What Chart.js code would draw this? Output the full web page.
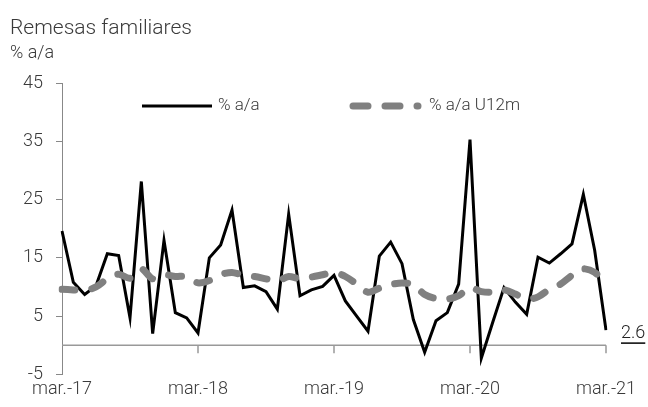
<!DOCTYPE html>
<html>
<head>
<meta charset="utf-8">
<script src="https://cdn.jsdelivr.net/npm/chart.js@4/dist/chart.umd.min.js"></script>
<style>
  html, body { margin: 0; padding: 0; background: #fff; }
</style>
</head>
<body>
<canvas id="chart" width="648" height="407"></canvas>
<script>
// monthly data, mar-17 .. mar-21
const months = [
  'mar.-17','abr.-17','may.-17','jun.-17','jul.-17','ago.-17','sep.-17','oct.-17','nov.-17','dic.-17','ene.-18','feb.-18',
  'mar.-18','abr.-18','may.-18','jun.-18','jul.-18','ago.-18','sep.-18','oct.-18','nov.-18','dic.-18','ene.-19','feb.-19',
  'mar.-19','abr.-19','may.-19','jun.-19','jul.-19','ago.-19','sep.-19','oct.-19','nov.-19','dic.-19','ene.-20','feb.-20',
  'mar.-20','abr.-20','may.-20','jun.-20','jul.-20','ago.-20','sep.-20','oct.-20','nov.-20','dic.-20','ene.-21','feb.-21',
  'mar.-21'
];
const shownLabels = ['mar.-17', 'mar.-18', 'mar.-19', 'mar.-20', 'mar.-21'];

const pctYoY = [
  19.6, 10.8, 8.7, 10.2, 15.7, 15.4, 4.7, 28.1, 2.0, 18.0, 5.6, 4.7,
  2.1, 15.0, 17.2, 23.2, 9.9, 10.2, 9.2, 6.2, 22.5, 8.5, 9.5, 10.1,
  12.0, 7.6, 5.0, 2.4, 15.3, 17.7, 14.0, 4.4, -1.2, 4.2, 5.6, 10.5,
  35.3, -2.2, 3.9, 9.9, 7.4, 5.3, 15.1, 14.1, 15.7, 17.4, 25.9, 16.3,
  2.6
];
const pctYoY12m = [
  9.6, 9.5, 9.4, 10.0, 11.4, 12.2, 11.5, 13.1, 11.4, 12.1, 11.8, 11.8,
  10.7, 11.1, 12.1, 12.5, 12.0, 11.8, 11.4, 11.0, 11.8, 11.4, 11.7, 12.1,
  12.5, 11.8, 10.5, 9.1, 9.8, 10.4, 10.7, 10.4, 8.7, 8.0, 7.9, 8.5,
  9.9, 9.2, 9.1, 9.5, 8.8, 7.9, 8.3, 9.6, 10.5, 12.0, 13.1, 12.5,
  10.5
];
const yTicks = [-5, 5, 15, 25, 35, 45];
const lastLabel = '2.6';

const FONT = "Roboto, 'Liberation Sans', sans-serif";
const TXT = '#3a3a3a';
const GRAY = '#808080';
const DASH = [13, 17];

// titles, zero line, year ticks, legend and the end label
const decor = {
  id: 'decor',
  beforeDatasetsDraw(chart) {
    const {ctx, chartArea: a, scales: {x, y}} = chart;
    const y0 = y.getPixelForValue(0);
    ctx.save();
    ctx.strokeStyle = '#999';
    ctx.lineWidth = 1.5;
    ctx.beginPath();
    ctx.moveTo(a.left, y0);
    ctx.lineTo(a.right, y0);
    months.forEach((m, i) => {
      if (i > 0 && shownLabels.includes(m)) {
        const px = x.getPixelForValue(i);
        ctx.moveTo(px, y0);
        ctx.lineTo(px, y0 + 8);
      }
    });
    ctx.stroke();
    ctx.restore();
  },
  afterDraw(chart) {
    const {ctx, scales: {x, y}} = chart;
    ctx.save();
    ctx.fillStyle = TXT;
    ctx.textBaseline = 'alphabetic';
    ctx.font = '300 21px ' + FONT;
    ctx.fillText('Remesas familiares', 10, 34);
    ctx.font = '300 18px ' + FONT;
    ctx.fillText('% a/a', 10, 58);

    // legend
    ctx.font = '300 17px ' + FONT;
    const ly = 106;
    ctx.lineCap = 'butt';
    ctx.strokeStyle = '#000';
    ctx.lineWidth = 3;
    ctx.beginPath();
    ctx.moveTo(142, ly);
    ctx.lineTo(212, ly);
    ctx.stroke();
    ctx.textBaseline = 'middle';
    ctx.fillText('% a/a', 218, ly);

    ctx.strokeStyle = GRAY;
    ctx.lineWidth = 7;
    ctx.lineCap = 'round';
    ctx.setLineDash([15, 17]);
    ctx.beginPath();
    ctx.moveTo(353, ly);
    ctx.lineTo(418, ly);
    ctx.stroke();
    ctx.setLineDash([]);
    ctx.fillText('% a/a U12m', 429, ly);

    // end value label, underlined
    ctx.font = '300 18px ' + FONT;
    const last = pctYoY.length - 1;
    const lx = x.getPixelForValue(last) + 15;
    const lyy = y.getPixelForValue(pctYoY[last]) + 3;
    ctx.fillStyle = '#222';
    ctx.fillText(lastLabel, lx, lyy);
    const w = ctx.measureText(lastLabel).width;
    ctx.strokeStyle = '#000';
    ctx.lineWidth = 1.5;
    ctx.lineCap = 'butt';
    ctx.beginPath();
    ctx.moveTo(lx, lyy + 10);
    ctx.lineTo(lx + w, lyy + 10);
    ctx.stroke();
    ctx.restore();
  }
};

new Chart(document.getElementById('chart'), {
  type: 'line',
  data: {
    labels: months,
    datasets: [
      {
        label: '% a/a U12m',
        data: pctYoY12m,
        borderColor: GRAY,
        borderWidth: 7,
        borderDash: DASH,
        borderCapStyle: 'round',
        tension: 0.3,
        pointRadius: 0,
        fill: false
      },
      {
        label: '% a/a',
        data: pctYoY,
        borderColor: '#000',
        borderWidth: 3,
        borderJoinStyle: 'miter',
        tension: 0,
        pointRadius: 0,
        fill: false
      }
    ]
  },
  options: {
    responsive: false,
    animation: false,
    devicePixelRatio: 1,
    layout: { padding: { left: 0, right: 42, top: 83, bottom: 3 } },
    plugins: {
      legend: { display: false },
      tooltip: { enabled: false }
    },
    scales: {
      x: {
        offset: false,
        grid: { display: false, drawTicks: false },
        border: { display: false },
        ticks: {
          autoSkip: false,
          maxRotation: 0,
          padding: 4,
          color: TXT,
          font: { family: FONT, size: 18, weight: 300 },
          callback: (v, i) => shownLabels.includes(months[i]) ? months[i] : ''
        }
      },
      y: {
        min: -5,
        max: 45,
        afterBuildTicks: s => { s.ticks = yTicks.map(v => ({ value: v })); },
        afterFit: s => { s.width = 62; },
        grid: { drawOnChartArea: false, tickLength: 6, color: '#888' },
        border: { display: true, color: '#888', width: 1 },
        ticks: {
          padding: 13,
          color: TXT,
          font: { family: FONT, size: 18, weight: 300 }
        }
      }
    }
  },
  plugins: [decor]
});
</script>
</body>
</html>
